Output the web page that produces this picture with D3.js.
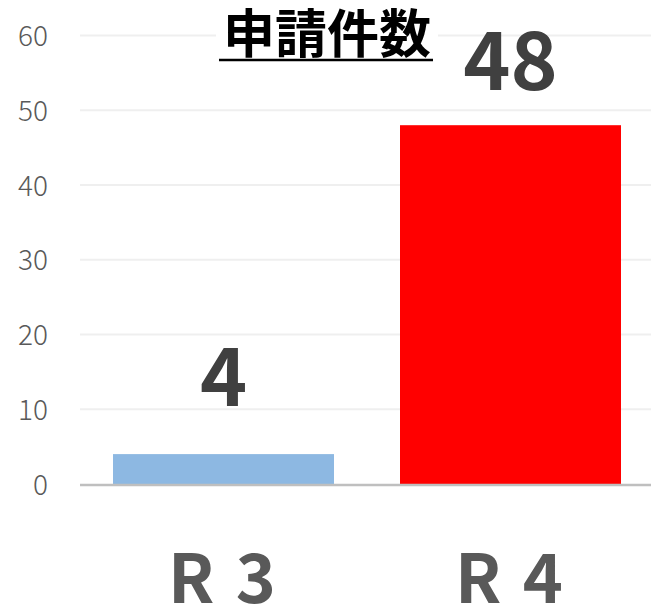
<!DOCTYPE html>
<meta charset="utf-8">
<script src="https://d3js.org/d3.v7.min.js"></script>
<style>
  body { margin: 0; background: #fff; }
  text { font-family: "Noto Sans CJK JP", "Noto Sans", sans-serif; }
</style>
<div id="my_dataviz"></div>
<script>

  // data
  var categories = ["R\u00a03", "R\u00a04"]
  var counts = [4, 48]
  var barColors = ["#8db8e2", "#ff0000"]
  var yTicks = [0, 10, 20, 30, 40, 50, 60]
  var title = "申請件数"

  var width = 651, height = 606

  var svg = d3.select("#my_dataviz")
    .append("svg")
      .attr("width", width)
      .attr("height", height)

  // scales
  var x = d3.scaleBand()
    .domain(categories)
    .range([80, 654])
    .paddingInner(0.23)
    .paddingOuter(0.115)

  var y = d3.scaleLinear()
    .domain([0, 60])
    .range([484, 35.5])

  // gridlines
  svg.selectAll(".grid")
    .data(yTicks.filter(function(d) { return d > 0 }))
    .enter()
    .append("line")
      .attr("x1", 80)
      .attr("x2", width)
      .attr("y1", function(d) { return y(d) })
      .attr("y2", function(d) { return y(d) })
      .style("stroke", "#efefef")
      .style("stroke-width", 2)

  // y axis labels
  var yAxis = d3.axisLeft(y).tickValues(yTicks).tickSize(0).tickPadding(0)
  var gy = svg.append("g")
    .attr("transform", "translate(48,0)")
    .call(yAxis)
  gy.select(".domain").remove()
  gy.selectAll("text")
    .style("font-family", "'Noto Sans CJK JP', sans-serif")
    .style("font-weight", 300)
    .style("font-size", "28px")
    .style("fill", "#595959")
    .attr("dy", "0.36em")

  // bars
  svg.selectAll(".bar")
    .data(counts)
    .enter()
    .append("rect")
      .attr("x", function(d, i) { return x(categories[i]) })
      .attr("y", function(d) { return y(d) })
      .attr("width", x.bandwidth())
      .attr("height", function(d) { return y(0) - y(d) })
      .style("fill", function(d, i) { return barColors[i] })

  // baseline
  svg.append("line")
    .attr("x1", 80)
    .attr("x2", width)
    .attr("y1", y(0) + 1)
    .attr("y2", y(0) + 1)
    .style("stroke", "#bfbfbf")
    .style("stroke-width", 2.5)

  // value labels (moved by hand in the original, so lift differs)
  var lift = [48, 35]
  svg.selectAll(".val")
    .data(counts)
    .enter()
    .append("text")
      .attr("x", function(d, i) { return x(categories[i]) + x.bandwidth() / 2 })
      .attr("y", function(d, i) { return y(d) - lift[i] })
      .attr("text-anchor", "middle")
      .style("font-size", "80px")
      .style("font-weight", "bold")
      .style("fill", "#404040")
      .text(function(d) { return d })

  // x axis labels
  var gx = svg.append("g")
    .attr("transform", "translate(0,603)")
    .call(d3.axisBottom(x).tickSize(0).tickPadding(0))
  gx.select(".domain").remove()
  gx.selectAll("text")
    .attr("dy", 0)
    .style("font-family", "'Noto Sans CJK JP', sans-serif")
    .style("font-size", "68px")
    .style("font-weight", "bold")
    .style("letter-spacing", "3px")
    .style("fill", "#595959")

  // title with white box behind
  var tg = svg.append("g")
  tg.append("rect")
    .attr("x", 216)
    .attr("y", 4)
    .attr("width", 222)
    .attr("height", 62)
    .style("fill", "#fff")
  var tt = tg.append("text")
    .attr("x", 327)
    .attr("y", 53)
    .attr("text-anchor", "middle")
    .style("font-size", "52px")
    .style("font-weight", "bold")
    .style("fill", "#000")
    .text(title)
  var bb = tt.node().getBBox()
  tg.append("line")
    .attr("x1", bb.x - 4)
    .attr("x2", bb.x + bb.width + 2)
    .attr("y1", 60)
    .attr("y2", 60)
    .style("stroke", "#000")
    .style("stroke-width", 2.5)

</script>
